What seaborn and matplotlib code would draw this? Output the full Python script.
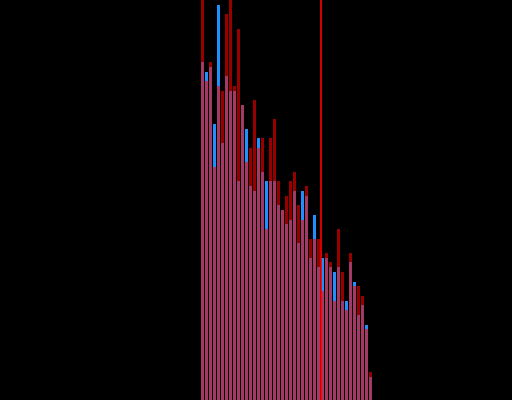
import matplotlib
matplotlib.use("Agg")
import matplotlib.pyplot as plt
import seaborn as sns

# Data (counts per bin)
bins = list(range(43))
blue_counts = [71, 69, 70, 58, 83, 54, 68, 65, 65, 46,
               62, 57, 45, 44, 55, 48, 46, 46, 46, 41,
               40, 37, 38, 44, 33, 44, 43, 30, 39, 28,
               30, 30, 28, 27, 28, 21, 21, 29, 25, 18,
               20, 16, 5]
red_counts = [90, 67, 71, 49, 66, 65, 81, 88, 66, 78,
              62, 50, 53, 63, 53, 55, 36, 55, 59, 46,
              40, 43, 46, 48, 41, 38, 45, 34, 34, 34,
              23, 31, 29, 21, 36, 27, 19, 31, 24, 24,
              22, 15, 6]
threshold = 29.5

fig = plt.figure(figsize=(5.12, 4), dpi=100, facecolor="black")
ax = fig.add_axes([0, 0, 1, 1])
ax.set_facecolor("black")

sns.barplot(x=bins, y=blue_counts, color="dodgerblue", width=0.75,
            native_scale=True, saturation=1, errorbar=None,
            linewidth=0, ax=ax)
sns.barplot(x=bins, y=red_counts, color="red", alpha=0.6, width=0.75,
            native_scale=True, saturation=1, errorbar=None,
            linewidth=0, ax=ax)
ax.axvline(threshold, color="red", linewidth=1.2)

ax.set_xlim(-50.625, 77.375)
ax.set_ylim(0.19, 84.0)
ax.axis("off")

fig.savefig("out.png", dpi=100, facecolor="black")
